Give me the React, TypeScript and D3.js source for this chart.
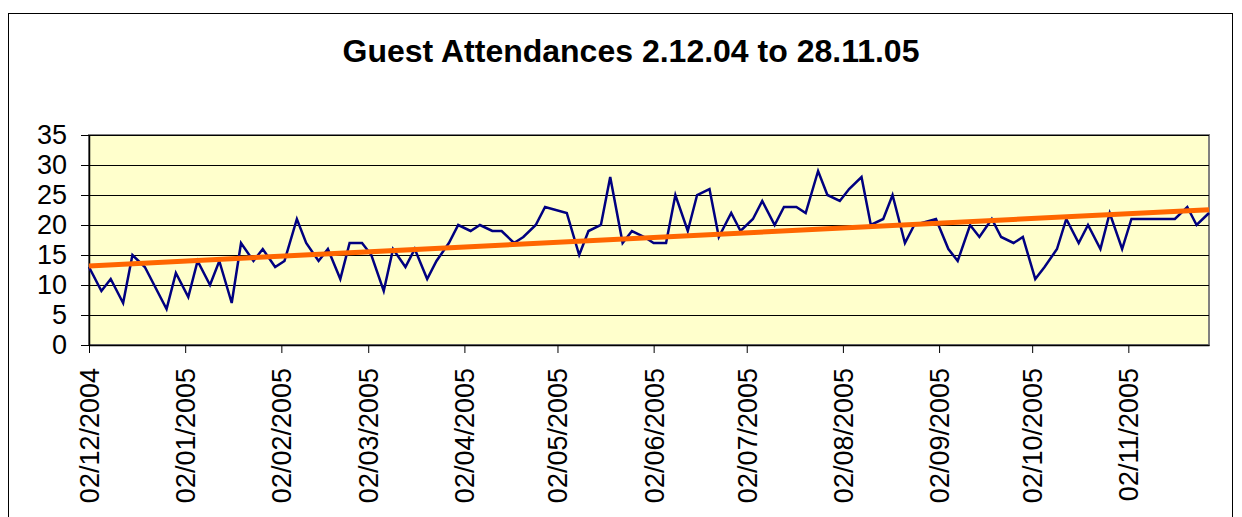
import React, { useEffect, useRef } from 'react';
import * as d3 from 'd3';

// attendance dates (dd/mm/yy, Mondays and Thursdays)
const dates = [
  '02/12/04', '06/12/04', '09/12/04', '13/12/04', '16/12/04', '20/12/04', '23/12/04', '27/12/04', '30/12/04',
  '03/01/05', '06/01/05', '10/01/05', '13/01/05', '17/01/05', '20/01/05', '24/01/05', '27/01/05', '31/01/05',
  '03/02/05', '07/02/05', '10/02/05', '14/02/05', '17/02/05', '21/02/05', '24/02/05', '28/02/05',
  '03/03/05', '07/03/05', '10/03/05', '14/03/05', '17/03/05', '21/03/05', '24/03/05', '28/03/05', '31/03/05',
  '04/04/05', '07/04/05', '11/04/05', '14/04/05', '18/04/05', '21/04/05', '25/04/05', '28/04/05',
  '05/05/05', '09/05/05', '12/05/05', '16/05/05', '19/05/05', '23/05/05', '26/05/05', '30/05/05',
  '02/06/05', '06/06/05', '09/06/05', '13/06/05', '16/06/05', '20/06/05', '23/06/05', '27/06/05', '30/06/05',
  '04/07/05', '07/07/05', '11/07/05', '14/07/05', '18/07/05', '21/07/05', '25/07/05', '28/07/05',
  '01/08/05', '04/08/05', '08/08/05', '11/08/05', '15/08/05', '18/08/05', '22/08/05', '25/08/05',
  '01/09/05', '05/09/05', '08/09/05', '12/09/05', '15/09/05', '19/09/05', '22/09/05', '26/09/05', '29/09/05',
  '03/10/05', '06/10/05', '10/10/05', '13/10/05', '17/10/05', '20/10/05', '24/10/05', '27/10/05', '31/10/05',
  '03/11/05', '07/11/05', '10/11/05', '14/11/05', '17/11/05', '21/11/05', '24/11/05', '28/11/05',
];

const guests = [
  13, 9, 11, 7, 15, 13, 10, 6, 12,
  8, 14, 10, 14, 7, 17, 14, 16, 13,
  14, 21, 17, 14, 16, 11, 17, 17,
  15, 9, 16, 13, 16, 11, 14, 17, 20,
  19, 20, 19, 19, 17, 18, 20, 23,
  22, 15, 19, 20, 28, 17, 19, 18,
  17, 17, 25, 19, 25, 26, 18, 22, 19,
  21, 24, 20, 23, 23, 22, 29, 25,
  24, 26, 28, 20, 21, 25, 17, 20,
  21, 16, 14, 20, 18, 21, 18, 17, 18,
  11, 13, 16, 21, 17, 20, 16, 22, 16,
  21, 21, 21, 21, 21, 23, 20, 22,
];

const xTickLabels = [
  '02/12/2004', '02/01/2005', '02/02/2005', '02/03/2005', '02/04/2005', '02/05/2005',
  '02/06/2005', '02/07/2005', '02/08/2005', '02/09/2005', '02/10/2005', '02/11/2005',
];

const yTicks = [0, 5, 10, 15, 20, 25, 30, 35];

const title = 'Guest Attendances 2.12.04 to 28.11.05';

const parseShort = d3.timeParse('%d/%m/%y');
const parseLong = d3.timeParse('%d/%m/%Y');

export default function App() {
  const ref = useRef<SVGSVGElement>(null);

  useEffect(() => {
    const width = 1242;
    const height = 517;
    const plot = { left: 89, top: 135, right: 1209, bottom: 345 };
    const font = "'Liberation Sans', Arial, sans-serif";

    const data = dates.map((d, i) => ({ date: parseShort(d) as Date, value: guests[i] }));
    const tickDates = xTickLabels.map(d => parseLong(d) as Date);

    const x = d3
      .scaleTime()
      .domain([data[0].date, data[data.length - 1].date])
      .range([plot.left, plot.right]);

    const y = d3
      .scaleLinear()
      .domain([0, 35])
      .range([plot.bottom, plot.top]);

    const svg = d3.select(ref.current);
    svg.selectAll('*').remove();

    svg.append('rect').attr('width', width).attr('height', height).attr('fill', '#ffffff');

    // chart frame
    svg
      .append('rect')
      .attr('x', 8.5)
      .attr('y', 13.5)
      .attr('width', 1224)
      .attr('height', 520)
      .attr('fill', 'none')
      .attr('stroke', '#000000')
      .attr('stroke-width', 1);

    svg
      .append('text')
      .attr('x', 631)
      .attr('y', 62)
      .attr('text-anchor', 'middle')
      .attr('font-family', font)
      .attr('font-weight', 'bold')
      .attr('font-size', 32)
      .text(title);

    // plot area
    svg
      .append('rect')
      .attr('x', plot.left)
      .attr('y', plot.top)
      .attr('width', plot.right - plot.left)
      .attr('height', plot.bottom - plot.top)
      .attr('fill', '#ffffcc')
      .attr('stroke', '#808080')
      .attr('stroke-width', 2);

    // gridlines
    svg
      .append('g')
      .selectAll('line')
      .data(yTicks.filter(t => t > 0))
      .join('line')
      .attr('x1', plot.left)
      .attr('x2', plot.right)
      .attr('y1', d => Math.round(y(d)) + 0.5)
      .attr('y2', d => Math.round(y(d)) + 0.5)
      .attr('stroke', '#000000')
      .attr('stroke-width', 1);

    // y axis
    const yAxis = svg
      .append('g')
      .attr('transform', `translate(${plot.left},0)`)
      .call(
        d3
          .axisLeft(y)
          .tickValues(yTicks)
          .tickSize(8)
          .tickSizeOuter(0)
          .tickPadding(14)
          .tickFormat(d3.format('d'))
      );
    yAxis.select('.domain').attr('stroke', '#000000').attr('stroke-width', 1.5);
    yAxis.selectAll('text').attr('font-family', font).attr('font-size', 27).attr('fill', '#000000');

    // x axis
    const xAxis = svg
      .append('g')
      .attr('transform', `translate(0,${plot.bottom})`)
      .call(
        d3
          .axisBottom(x)
          .tickValues(tickDates)
          .tickSize(8)
          .tickSizeOuter(0)
          .tickFormat((d, i) => xTickLabels[i])
      );
    xAxis.select('.domain').attr('stroke', '#000000').attr('stroke-width', 1.5);
    xAxis
      .selectAll('text')
      .attr('font-family', font)
      .attr('font-size', 27)
      .attr('fill', '#000000')
      .attr('text-anchor', 'end')
      .attr('transform', 'rotate(-90)')
      .attr('x', -23)
      .attr('y', 0)
      .attr('dy', '0.35em');

    // attendance line
    const line = d3
      .line<{ date: Date; value: number }>()
      .x(d => x(d.date))
      .y(d => y(d.value));

    // linear trendline (least squares over the dates)
    const xs = data.map(d => +d.date);
    const mx = d3.mean(xs) as number;
    const my = d3.mean(data, d => d.value) as number;
    const slope =
      d3.sum(data, d => (+d.date - mx) * (d.value - my)) / d3.sum(xs, v => (v - mx) * (v - mx));
    const trend = x.domain().map(d => ({ date: d, value: my + slope * (+d - mx) }));

    svg
      .append('path')
      .datum(data)
      .attr('fill', 'none')
      .attr('stroke', '#000080')
      .attr('stroke-width', 2.5)
      .attr('stroke-linejoin', 'miter')
      .attr('d', line);

    svg
      .append('path')
      .datum(trend)
      .attr('fill', 'none')
      .attr('stroke', '#ff6600')
      .attr('stroke-width', 5)
      .attr('d', line);
  }, []);

  return (
    <svg
      ref={ref}
      width={1242}
      height={517}
      style={{ position: 'absolute', left: 0, top: 0, display: 'block' }}
    />
  );
}
